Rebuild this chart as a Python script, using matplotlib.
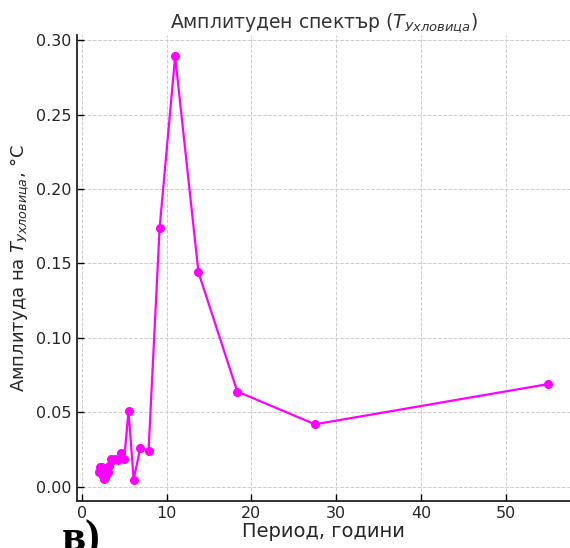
import matplotlib
matplotlib.use("Agg")
import matplotlib.pyplot as plt

# Data: periods (years) and amplitudes (°C)
periods = [55.0, 27.5, 18.33, 13.75, 11.0, 9.17, 7.86, 6.875, 6.11, 5.5,
           5.0, 4.58, 4.23, 3.93, 3.67, 3.44, 3.24, 3.06, 2.89, 2.75,
           2.62, 2.5, 2.39, 2.29, 2.2, 2.115, 2.04]
amplitudes = [0.069, 0.042, 0.064, 0.144, 0.289, 0.174, 0.024, 0.026, 0.0047, 0.051,
              0.019, 0.023, 0.018, 0.019, 0.018, 0.019, 0.014, 0.010, 0.008, 0.006,
              0.005, 0.007, 0.013, 0.011, 0.010, 0.013, 0.010]

title = "Амплитуден спектър ($T_{Ухловица}$)"
xlabel = "Период, години"
ylabel = "Амплитуда на $T_{Ухловица}$, °C"
xticks = [0, 10, 20, 30, 40, 50]
yticks = [0.00, 0.05, 0.10, 0.15, 0.20, 0.25, 0.30]

plt.rcParams['font.family'] = ['DejaVu Sans']
plt.rcParams['mathtext.fontset'] = 'dejavusans'

fig = plt.figure(figsize=(5.7, 5.48), dpi=100)
ax = fig.add_axes([0.1346, 0.0858, 0.8665, 0.850])

ax.plot(periods, amplitudes, color='#ff00ff', marker='o', markersize=5.5,
        linewidth=1.6, zorder=3)

ax.set_xlim(-0.61, 57.65)
ax.set_ylim(-0.0095, 0.3033)
ax.set_xticks(xticks)
ax.set_yticks(yticks)
ax.set_yticklabels([f"{v:.2f}" for v in yticks])

ax.grid(True, linestyle='--', color='#cccccc', linewidth=0.7)
ax.set_axisbelow(True)
for s in ['top', 'right']:
    ax.spines[s].set_visible(False)
for s in ['left', 'bottom']:
    ax.spines[s].set_linewidth(1.3)
    ax.spines[s].set_color('#222222')

ax.tick_params(direction='in', labelsize=11.5, labelcolor='#262626', length=5, width=1)
ax.set_title(title, fontsize=13.5, color='#333333', pad=4)
ax.set_xlabel(xlabel, fontsize=14, color='#262626', labelpad=1)
ax.set_ylabel(ylabel, fontsize=13, color='#262626', labelpad=4)

fig.text(0.108, 0.052, "в)", fontsize=32, fontweight='bold',
         family=['Liberation Serif', 'DejaVu Serif'], va='top', ha='left')

fig.savefig("out.png", dpi=100)
